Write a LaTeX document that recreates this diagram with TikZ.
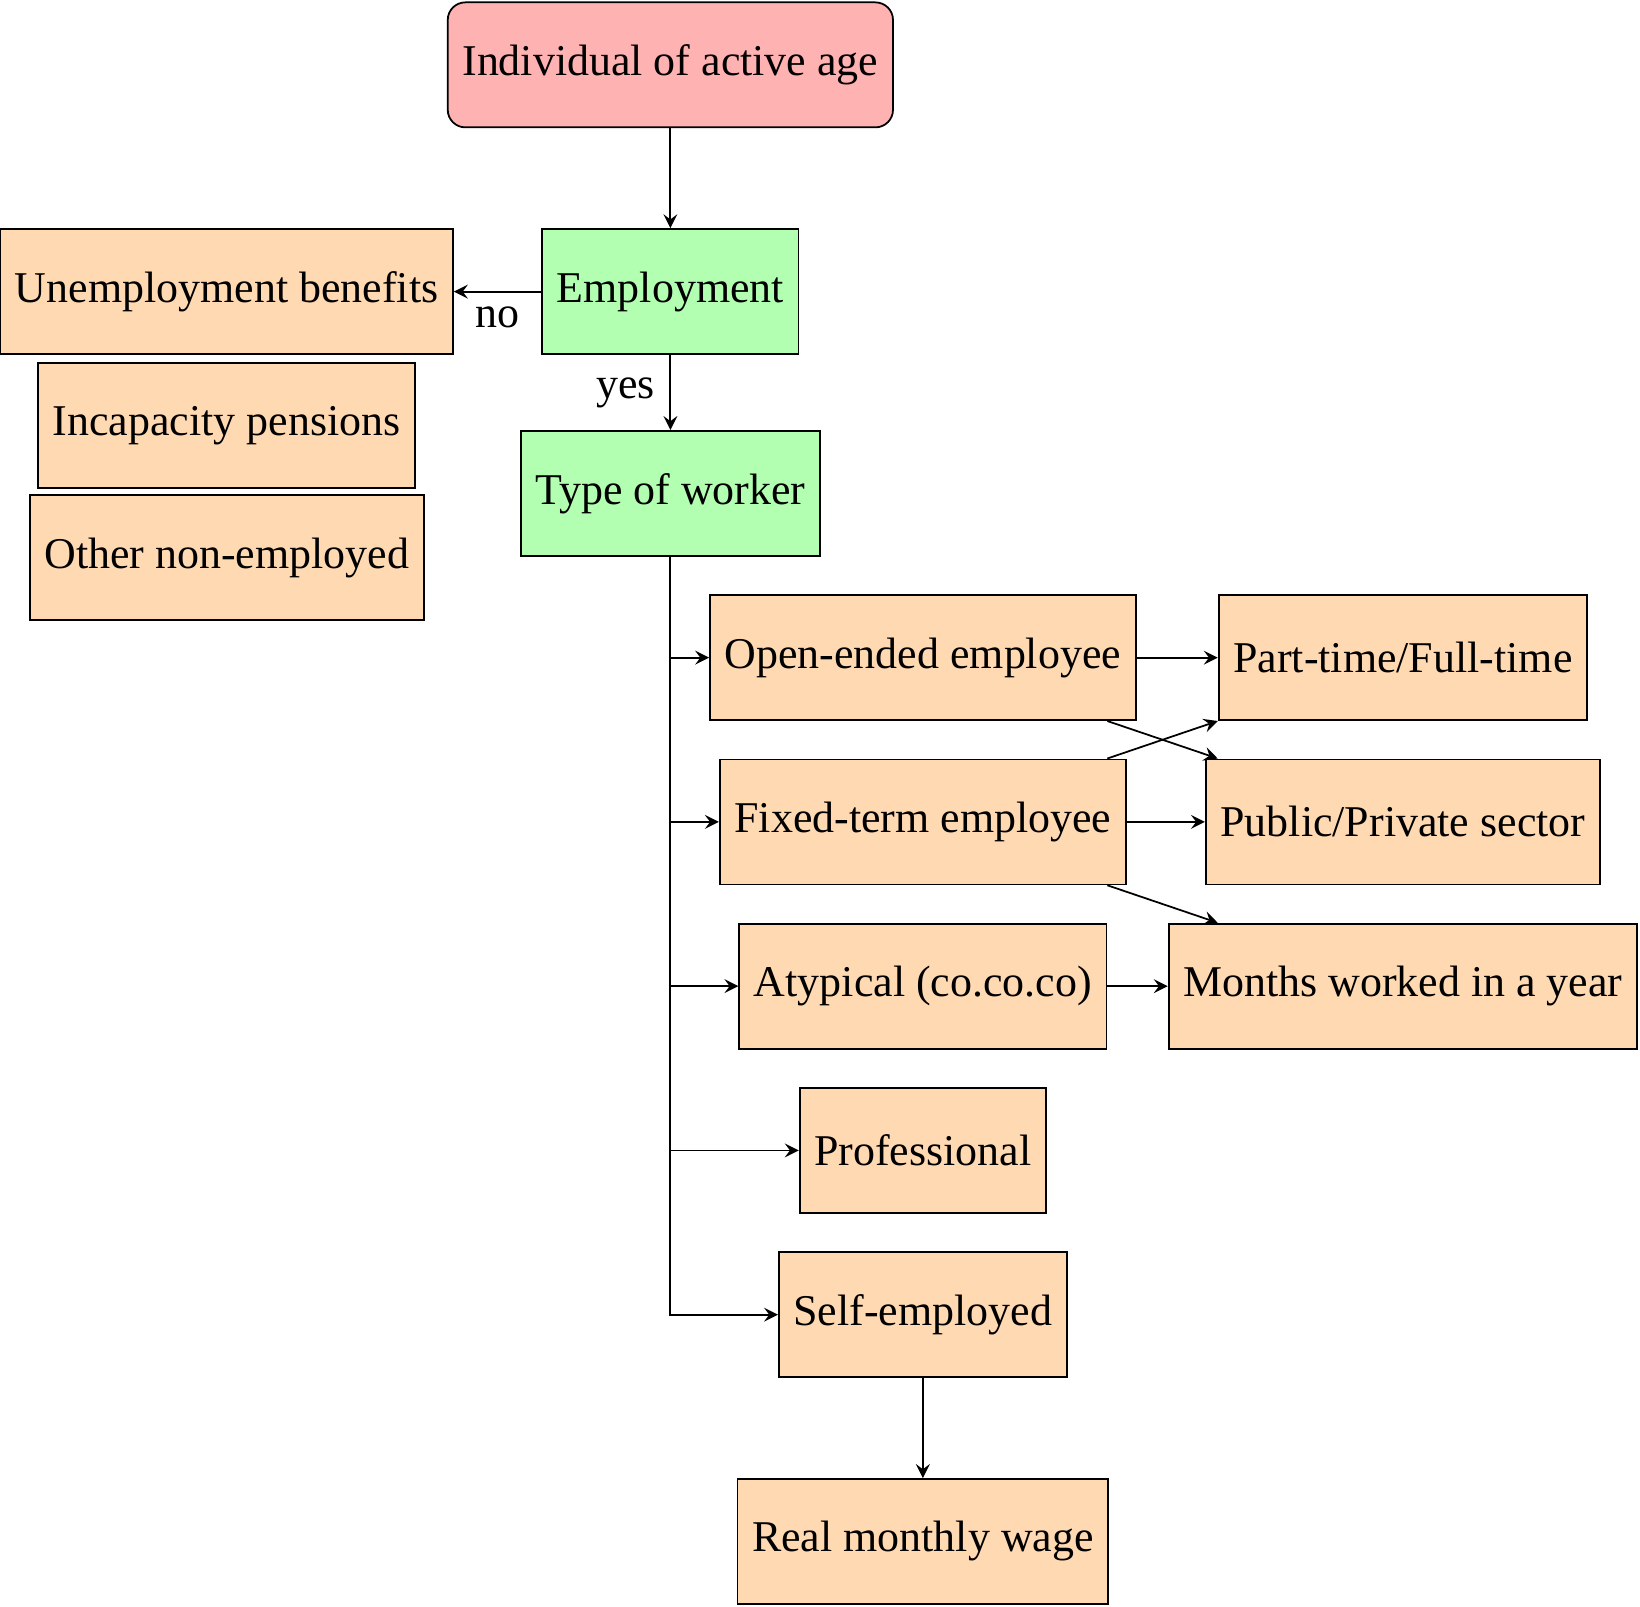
\documentclass[tikz,border=0pt]{standalone}
\usepackage{fontspec}
\setmainfont{Liberation Serif}
\usepackage{xcolor}
\usepackage{tikz}
\usetikzlibrary{positioning}

\begin{document}
\begin{tikzpicture}[
  node distance=3mm,
  >=stealth,
  box/.style={draw, fill=orange!30, minimum height=1cm},
  check/.style={box, fill=green!30},
  origin/.style={box, fill=red!30, rounded corners},
  every path/.style={draw, ->}
]
\path[draw=none, use as bounding box] (0,0) rectangle (13.12,-12.856);
\node[origin] (indiv) at (5.363,-0.519) {Individual of active age};
\node[check, below=8mm of indiv] (employ) {Employment};
\node[check, below=6mm of employ] (type) {Type of worker};
\node[box, left=7mm of employ] (unemp) {Unemployment benefits};
\node[box, below=0.55mm of unemp] (incap) {Incapacity pensions};
\node[box, below=0.45mm of incap] (other) {Other non-employed};
\node[box, below=of type, xshift=2.02cm] (open) {Open-ended employee};
\node[box, below=of open] (fixed) {Fixed-term employee};
\node[box, below=of fixed] (atyp) {Atypical (co.co.co)};
\node[box, below=of atyp] (prof) {Professional};
\node[box, below=of prof] (self) {Self-employed};
\node[box, below=8mm of self] (wage) {Real monthly wage};
\node[box, xshift=3.84cm] (part) at (open) {Part-time/Full-time};
\node[box, xshift=3.84cm] (public) at (fixed) {Public/Private sector};
\node[box, xshift=3.84cm] (months) at (atyp) {Months worked in a year};

\path (indiv) -- (employ);
\path (employ) -- node[below] {no} (unemp);
\path (employ) -- node[left] {yes} (type);
\path (type.south) |- (open.west);
\path (type.south) |- (fixed.west);
\path (type.south) |- (atyp.west);
\path (type.south) |- (prof.west);
\path (type.south) |- (self.west);
\path (open) -- (part);
\path (fixed) -- (public);
\path (atyp) -- (months);
\path (atyp.east |- open.south) -- (part.west |- public.north);
\path (atyp.east |- fixed.north) -- (part.south west);
\path (atyp.east |- fixed.south) -- (part.west |- months.north);
\path (self) -- (wage);
\end{tikzpicture}
\end{document}
